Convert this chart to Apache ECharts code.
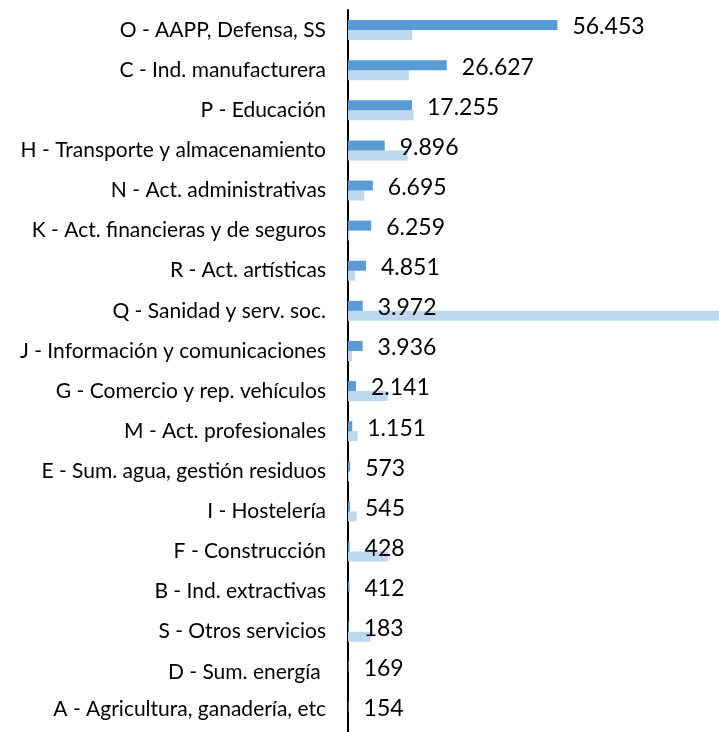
<!DOCTYPE html>
<html>
<head>
    <meta charset="utf-8">
    <script src="https://cdn.jsdelivr.net/npm/echarts@6/dist/echarts.min.js"></script>
    <style>
        * { padding: 0; margin: 0 }
        body, html { height: 100%; width: 100%; background: #fff }
        #container { height: 732px; width: 719px }
    </style>
</head>
<body>
    <div id="container"></div>
</body>
<script>
    // sectores, de arriba a abajo
    const categories = [
        'O - AAPP, Defensa, SS',
        'C - Ind. manufacturera',
        'P - Educación',
        'H - Transporte y almacenamiento',
        'N - Act. administrativas',
        'K - Act. financieras y de seguros',
        'R - Act. artísticas',
        'Q - Sanidad y serv. soc.',
        'J - Información y comunicaciones',
        'G - Comercio y rep. vehículos',
        'M - Act. profesionales',
        'E - Sum. agua, gestión residuos',
        'I - Hostelería',
        'F - Construcción',
        'B - Ind. extractivas',
        'S - Otros servicios',
        'D - Sum. energía ',
        'A - Agricultura, ganadería, etc'
    ];
    const darkValues = [56453, 26627, 17255, 9896, 6695, 6259, 4851, 3972, 3936, 2141, 1151, 573, 545, 428, 412, 183, 169, 154];
    // serie clara (sin etiquetas), leída a ojo
    const lightValues = [17300, 16400, 17700, 16100, 4400, 400, 1900, 120000, 1100, 10700, 2600, 300, 2300, 10700, 0, 6100, 0, 0];

    const fmt = v => String(v).replace(/\B(?=(\d{3})+(?!\d))/g, '.');

    const myChart = echarts.init(document.getElementById('container'));
    myChart.setOption({
        animation: false,
        grid: { left: 348, top: 10, width: 371, height: 728 },
        xAxis: {
            type: 'value', min: 0, max: 100000, show: false,
            splitLine: { show: false }
        },
        yAxis: {
            type: 'category', data: categories, inverse: true,
            axisLine: { lineStyle: { color: '#000', width: 2 } },
            axisTick: { show: false },
            axisLabel: {
                fontFamily: 'Lato', fontSize: 21, color: '#000', margin: 22,
                // la última etiqueta queda algo más arriba (recortada abajo)
                formatter: (v, i) => i === categories.length - 1 ? '{up|' + v + '}' : v,
                rich: { up: { fontFamily: 'Lato', fontSize: 21, color: '#000', padding: [0, 0, 6, 0] } }
            }
        },
        series: [
            {
                type: 'bar', data: darkValues, barWidth: 10, barGap: '0%',
                itemStyle: { color: '#5B9BD5' },
                label: {
                    show: true, position: 'right', distance: 15, offset: [0, 2],
                    fontFamily: 'Lato', fontSize: 23, color: '#000',
                    formatter: p => fmt(p.value)
                },
                z: 3
            },
            {
                type: 'bar', data: lightValues, barWidth: 10, barGap: '0%',
                itemStyle: { color: '#BDD7EE' },
                clip: true, z: 2
            }
        ]
    });
</script>
</html>
